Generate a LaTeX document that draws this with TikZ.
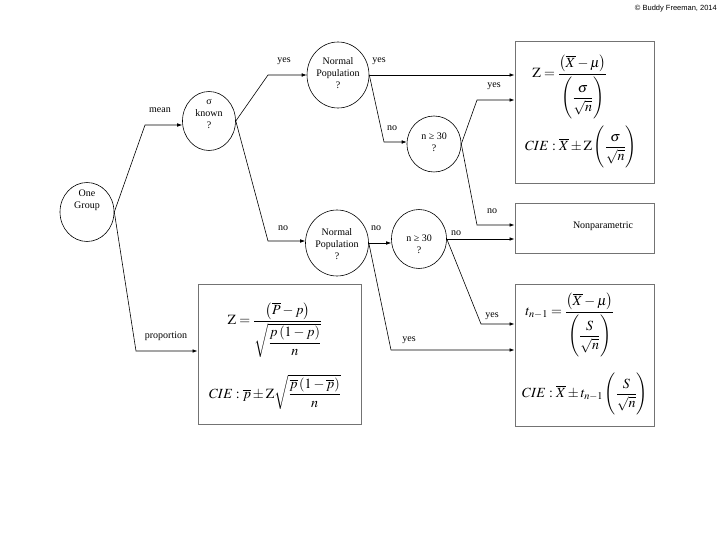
\documentclass[tikz,border=0pt]{standalone}
\usepackage{amsmath}
\usepackage{mathptmx}
\usepackage[no-math]{fontspec}
\setmainfont{Liberation Serif}
\newfontfamily\copyfont{Liberation Sans}
\usetikzlibrary{arrows.meta,shapes.geometric}
\newcommand{\bigstrut}{\rule[-19pt]{0pt}{45pt}}
\newcommand{\midstrut}{\rule[-16pt]{0pt}{39pt}}
\begin{document}
\begin{tikzpicture}[x=1pt,y=-1pt,
  every node/.style={font=\fontsize{10}{12}\selectfont, inner sep=0pt},
  dec/.style={draw, ellipse, line width=0.6pt},
  txt/.style={align=center},
  box/.style={draw=black!55, line width=1pt, rectangle},
  ln/.style={line width=0.6pt},
  arr/.style={ln, -{Latex[length=5pt,width=3.6pt]}},
  fml/.style={font=\fontsize{14}{16}\selectfont}]
\useasboundingbox (0,0) rectangle (720,540);

% copyright
\node[font=\copyfont\fontsize{7.5}{9}\selectfont, anchor=east] (cp) at (717,9) {© Buddy Freeman, 2014};

% decision circles
\node[dec, minimum width=54pt, minimum height=59pt] (og) at (87,212) {};
\node[txt] (ogt) at (87,200) {One\\Group};
\node[dec, minimum width=53pt, minimum height=59pt] (sk) at (209,121) {};
\node[txt] (skt) at (209,114) {σ\\known\\?};
\node[dec, minimum width=62pt, minimum height=66pt] (np1) at (338,75) {};
\node[txt] (np1t) at (338,73) {Normal\\Population\\?};
\node[dec, minimum width=54pt, minimum height=56pt] (n1) at (434,144) {};
\node[txt] (n1t) at (434,142) {n ≥ 30\\?};
\node[dec, minimum width=63pt, minimum height=66pt] (np2) at (337,243) {};
\node[txt] (np2t) at (337,244) {Normal\\Population\\?};
\node[dec, minimum width=55pt, minimum height=59pt] (n2) at (419,239) {};
\node[txt] (n2t) at (419,244) {n ≥ 30\\?};

% result boxes
\node[box, minimum width=139pt, minimum height=142pt] (zb) at (584.5,113) {};
\node[box, minimum width=139pt, minimum height=49pt] (npb) at (584.5,228.5) {};
\node (npt) at (603,226) {Nonparametric};
\node[box, minimum width=139pt, minimum height=142pt] (tb) at (584.5,355) {};
\node[box, minimum width=163pt, minimum height=140pt] (pb) at (279.5,354) {};

% formulas
\node[fml] (zf1) at (570,88) {$\mathrm{Z}=\dfrac{\left(\overline{X}-\mu\right)}{\left(\bigstrut\dfrac{\sigma}{\sqrt{n}}\right)}$};
\node[fml] (zf2) at (581,147) {$CIE:\overline{X}\pm \mathrm{Z}\left(\midstrut\dfrac{\sigma}{\sqrt{n}}\right)$};
\node[fml] (pf1) at (275,330) {$\mathrm{Z}=\dfrac{\left(\overline{P}-p\right)}{\sqrt{\dfrac{p\left(1-p\right)}{n}}}$};
\node[fml] (pf2) at (275,392) {$CIE:\overline{p}\pm \mathrm{Z}\sqrt{\dfrac{\overline{p}\left(1-\overline{p}\right)}{n}}$};
\node[fml] (tf1) at (570,326) {$t_{n-1}=\dfrac{\left(\overline{X}-\mu\right)}{\left(\bigstrut\dfrac{S}{\sqrt{n}}\right)}$};
\node[fml] (tf2) at (585,394) {$CIE:\overline{X}\pm t_{n-1}\left(\midstrut\dfrac{S}{\sqrt{n}}\right)$};

% corner points
\coordinate (c1) at (145,125);
\coordinate (c2) at (268,75);
\coordinate (c3) at (268,241);
\coordinate (c4) at (384,142);
\coordinate (c5) at (477,100);
\coordinate (c6) at (477,225);
\coordinate (c7) at (481,324);
\coordinate (c8) at (391,350);
\coordinate (c9) at (136,351);

% connectors
\draw[arr] (og.east) -- (c1) -- (sk.west |- c1);
\draw[arr] (og.east) -- (c9) -- (pb.west |- c9);
\draw[arr] (sk.east) -- (c2) -- (np1.west);
\draw[arr] (sk.east) -- (c3) -- (np2.west |- c3);
\draw[arr] (np1.east) -- (zb.west |- np1.east);
\draw[arr] (np1.east) -- (c4) -- (n1.west |- c4);
\draw[arr] (n1.east) -- (c5) -- (zb.west |- c5);
\draw[arr] (n1.east) -- (c6) -- (npb.west |- c6);
\draw[arr] (np2.east) -- (n2.west |- np2.east);
\draw[arr] (n2.east) -- (npb.west |- n2.east);
\draw[arr] (n2.east) -- (c7) -- (tb.west |- c7);
\draw[arr] (np2.east) -- (c8) -- (tb.west |- c8);

% labels
\node (l1) at (160,110) {mean};
\node (l2) at (284,61) {yes};
\node (l3) at (283,228) {no};
\node (l4) at (379,61) {yes};
\node (l5) at (392,128) {no};
\node (l6) at (494,86) {yes};
\node (l7) at (492,211) {no};
\node (l8) at (376,228) {no};
\node (l9) at (456,233) {no};
\node (l10) at (492,316) {yes};
\node (l11) at (409,340) {yes};
\node (l12) at (166,336) {proportion};
\end{tikzpicture}
\end{document}
